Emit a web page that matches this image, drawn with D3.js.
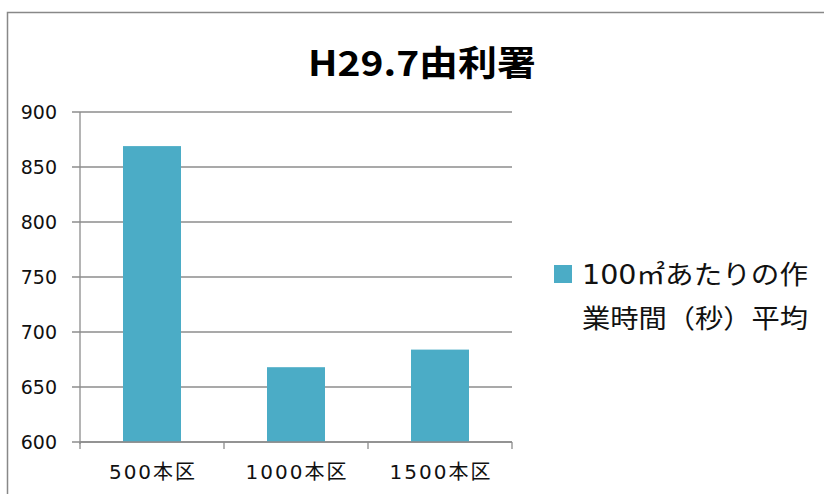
<!DOCTYPE html>
<html>
<head>
<meta charset="utf-8">
<script src="https://cdn.jsdelivr.net/npm/d3@7"></script>
<style>
body { margin:0; background:#fff; }
</style>
</head>
<body>
<svg id="chart"></svg>
<script>
var categories = ["500本区", "1000本区", "1500本区"];
var values = [869, 668, 684];
var yTicks = [600, 650, 700, 750, 800, 850, 900];
var seriesName = ["100㎡あたりの作", "業時間（秒）平均"];
var title = "H29.7由利署";

var screen = {width:824, height:494};
var margins = {top:112, left:80};
var graph = {width:432, height:330};
var cjk = "'Noto Sans CJK JP', 'Noto Sans', sans-serif";
var mixed = "'DejaVu Sans', 'Noto Sans CJK JP', sans-serif";

var svg = d3.select("#chart")
    .attr("width", screen.width)
    .attr("height", screen.height);

// chart frame
svg.append("rect")
    .attr("x", 7.5).attr("y", 12.5)
    .attr("width", 830).attr("height", 500)
    .attr("fill", "none")
    .attr("stroke", "#888")
    .attr("stroke-width", 1.5);

svg.append("text")
    .attr("x", 308).attr("y", 76)
    .style("font-family", cjk)
    .attr("font-size", 35)
    .attr("font-weight", "bold")
    .attr("textLength", 228)
    .attr("lengthAdjust", "spacingAndGlyphs")
    .text(title);

var xScale = d3.scaleBand()
    .domain(categories)
    .range([0, graph.width]);

var yScale = d3.scaleLinear()
    .domain([600, 900])
    .range([graph.height, 0]);

var g = svg.append("g")
    .attr("transform", "translate(" + margins.left + "," + margins.top + ")");

// gridlines
g.selectAll(".grid")
    .data(yTicks)
    .enter()
    .append("line")
    .attr("x1", -8).attr("x2", graph.width)
    .attr("y1", function(d) { return yScale(d); })
    .attr("y2", function(d) { return yScale(d); })
    .attr("stroke", "#8c8c8c")
    .attr("stroke-width", 1.3);

g.selectAll(".ylab")
    .data(yTicks)
    .enter()
    .append("text")
    .attr("x", -23)
    .attr("y", function(d) { return yScale(d) + 7; })
    .attr("text-anchor", "end")
    .attr("font-size", 19)
    .style("font-family", "'DejaVu Sans', sans-serif")
    .attr("fill", "#111")
    .text(function(d) { return d; });

// bars
var barW = 58;
g.selectAll("rect.bar")
    .data(values)
    .enter()
    .append("rect")
    .attr("class", "bar")
    .attr("x", function(d, i) { return xScale(categories[i]) + (xScale.bandwidth() - barW) / 2; })
    .attr("y", function(d) { return yScale(d); })
    .attr("width", barW)
    .attr("height", function(d) { return graph.height - yScale(d); })
    .attr("fill", "#4bacc6");

// y axis line
g.append("line")
    .attr("x1", 0).attr("x2", 0)
    .attr("y1", 0).attr("y2", graph.height + 2)
    .attr("stroke", "#8c8c8c")
    .attr("stroke-width", 1.3);

// x axis
g.append("line")
    .attr("x1", 0).attr("x2", graph.width)
    .attr("y1", graph.height).attr("y2", graph.height)
    .attr("stroke", "#8c8c8c")
    .attr("stroke-width", 1.3);

var xTickPos = categories.map(function(c) { return xScale(c); }).concat([graph.width]);
g.selectAll(".xtick")
    .data(xTickPos)
    .enter()
    .append("line")
    .attr("x1", function(d) { return d; })
    .attr("x2", function(d) { return d; })
    .attr("y1", graph.height)
    .attr("y2", graph.height + 7)
    .attr("stroke", "#8c8c8c")
    .attr("stroke-width", 1.3);

g.selectAll(".xlab")
    .data(categories)
    .enter()
    .append("text")
    .attr("x", function(d) { return xScale(d) + xScale.bandwidth() / 2 + 1; })
    .attr("y", graph.height + 37)
    .attr("text-anchor", "middle")
    .attr("font-size", 20)
    .style("font-family", mixed)
    .attr("letter-spacing", 2)
    .attr("fill", "#111")
    .text(function(d) { return d; });

// legend
var legend = svg.append("g")
    .attr("transform", "translate(554,265)");

legend.append("rect")
    .attr("width", 18).attr("height", 18)
    .attr("fill", "#4bacc6");

legend.selectAll("text")
    .data(seriesName)
    .enter()
    .append("text")
    .attr("x", 28)
    .attr("y", function(d, i) { return 19 + i * 44; })
    .attr("font-size", 26)
    .style("font-family", mixed)
    .attr("textLength", 226)
    .attr("lengthAdjust", "spacingAndGlyphs")
    .attr("fill", "#111")
    .text(function(d) { return d; });
</script>
</body>
</html>
